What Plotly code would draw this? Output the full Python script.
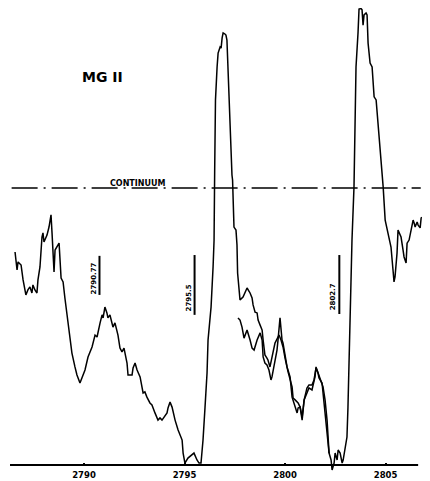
import plotly.graph_objects as go

# Main spectrum tracing (wavelength in Angstrom, intensity relative to continuum)
wave_main = [2786.57, 2786.67, 2786.72, 2786.87, 2786.97, 2787.11, 2787.21, 2787.31, 2787.41, 2787.46,
             2787.56, 2787.66, 2787.71, 2787.81, 2787.91, 2787.96, 2788.01, 2788.16, 2788.26, 2788.36,
             2788.41, 2788.51, 2788.56, 2788.66, 2788.76, 2788.86, 2788.96, 2789.05, 2789.15, 2789.30,
             2789.40, 2789.55, 2789.65, 2789.80, 2789.90, 2790.05, 2790.20, 2790.40, 2790.55, 2790.65,
             2790.80, 2790.90, 2790.95, 2791.04, 2791.14, 2791.19, 2791.29, 2791.39, 2791.44, 2791.54,
             2791.64, 2791.69, 2791.79, 2791.89, 2791.99, 2792.14, 2792.19, 2792.39, 2792.44, 2792.54,
             2792.64, 2792.79, 2792.94, 2793.03, 2793.13, 2793.28, 2793.38, 2793.43, 2793.53, 2793.68,
             2793.78, 2793.88, 2793.98, 2794.13, 2794.18, 2794.28, 2794.38, 2794.43, 2794.53, 2794.68,
             2794.88, 2794.93, 2795.02, 2795.17, 2795.37, 2795.47, 2795.62, 2795.72, 2795.82, 2795.92,
             2796.02, 2796.12, 2796.17, 2796.32, 2796.42, 2796.47, 2796.50, 2796.54, 2796.62, 2796.67,
             2796.77, 2796.82, 2796.87, 2796.92, 2797.01, 2797.06, 2797.11, 2797.16, 2797.21, 2797.31,
             2797.36, 2797.39, 2797.41, 2797.46, 2797.56, 2797.61, 2797.64, 2797.66, 2797.71, 2797.76,
             2797.91, 2798.11, 2798.26, 2798.36, 2798.41, 2798.51, 2798.61, 2798.66, 2798.76, 2798.86,
             2798.91, 2799.00, 2799.10, 2799.15, 2799.25, 2799.40, 2799.50, 2799.65, 2799.70, 2799.80,
             2799.90, 2800.00, 2800.10, 2800.15, 2800.35, 2800.40, 2800.50, 2800.65, 2800.75, 2800.85,
             2800.95, 2801.09, 2801.19, 2801.34, 2801.44, 2801.54, 2801.64, 2801.69, 2801.84, 2801.89,
             2801.99, 2802.09, 2802.14, 2802.19, 2802.29, 2802.34, 2802.44, 2802.49, 2802.59, 2802.64,
             2802.74, 2802.84, 2802.89, 2802.99, 2803.08, 2803.13, 2803.18, 2803.23, 2803.28, 2803.33,
             2803.43, 2803.48, 2803.53, 2803.63, 2803.68, 2803.78, 2803.83, 2803.88, 2803.93, 2804.03,
             2804.08, 2804.13, 2804.23, 2804.33, 2804.43, 2804.53, 2804.63, 2804.73, 2804.83, 2804.88,
             2804.98, 2805.07, 2805.17, 2805.27, 2805.37, 2805.42, 2805.47, 2805.57, 2805.62, 2805.77,
             2805.87, 2805.92, 2806.02, 2806.07, 2806.17, 2806.27, 2806.37, 2806.42, 2806.47, 2806.57,
             2806.62, 2806.72, 2806.77, 2806.87, 2806.92, 2806.97, 2807.06]
flux_main = [0.769, 0.704, 0.733, 0.722, 0.668, 0.614, 0.632, 0.643, 0.621, 0.650,
             0.632, 0.621, 0.668, 0.715, 0.823, 0.838, 0.805, 0.830, 0.859, 0.903,
             0.838, 0.697, 0.776, 0.787, 0.801, 0.675, 0.661, 0.603, 0.549, 0.462,
             0.404, 0.354, 0.325, 0.296, 0.318, 0.343, 0.390, 0.426, 0.469, 0.462,
             0.513, 0.542, 0.531, 0.570, 0.549, 0.531, 0.542, 0.513, 0.498, 0.513,
             0.487, 0.469, 0.422, 0.408, 0.422, 0.368, 0.325, 0.325, 0.350, 0.368,
             0.343, 0.318, 0.260, 0.264, 0.245, 0.224, 0.217, 0.206, 0.188, 0.162,
             0.170, 0.162, 0.173, 0.188, 0.206, 0.227, 0.209, 0.191, 0.162, 0.126,
             0.090, 0.043, 0.007, 0.025, 0.036, 0.043, 0.018, 0.007, 0.007, 0.090,
             0.209, 0.332, 0.451, 0.570, 0.715, 0.812, 1.065, 1.318, 1.437, 1.487,
             1.509, 1.505, 1.542, 1.560, 1.556, 1.552, 1.534, 1.437, 1.282, 1.112,
             1.047, 1.029, 0.957, 0.859, 0.848, 0.794, 0.693, 0.679, 0.632, 0.596,
             0.606, 0.639, 0.621, 0.603, 0.578, 0.552, 0.549, 0.523, 0.505, 0.487,
             0.451, 0.397, 0.386, 0.379, 0.354, 0.404, 0.440, 0.462, 0.469, 0.451,
             0.426, 0.386, 0.350, 0.336, 0.282, 0.242, 0.235, 0.224, 0.209, 0.173,
             0.235, 0.278, 0.289, 0.289, 0.307, 0.350, 0.332, 0.314, 0.296, 0.260,
             0.199, 0.137, 0.090, 0.043, 0.018, -0.018, 0.007, 0.043, 0.018, 0.054,
             0.043, 0.007, 0.018, 0.065, 0.101, 0.209, 0.390, 0.513, 0.632, 0.812,
             1.004, 1.318, 1.437, 1.560, 1.646, 1.648, 1.643, 1.588, 1.625, 1.632,
             1.625, 1.523, 1.451, 1.437, 1.329, 1.318, 1.235, 1.148, 1.054, 1.004,
             0.884, 0.856, 0.823, 0.787, 0.704, 0.661, 0.679, 0.765, 0.848, 0.823,
             0.776, 0.751, 0.729, 0.801, 0.812, 0.848, 0.884, 0.874, 0.859, 0.877,
             0.866, 0.856, 0.892, 0.895, 0.877, 0.892, 0.877]

# Second (overlapping) tracing between the two emission peaks
wave_second = [2797.66, 2797.76, 2797.86, 2797.96, 2798.11, 2798.16, 2798.26, 2798.36, 2798.46, 2798.61,
               2798.66, 2798.76, 2798.86, 2798.91, 2799.00, 2799.10, 2799.20, 2799.30, 2799.35, 2799.45,
               2799.60, 2799.65, 2799.75, 2799.85, 2799.90, 2800.10, 2800.25, 2800.35, 2800.50, 2800.60,
               2800.65, 2800.75, 2800.85, 2800.95, 2801.09, 2801.19, 2801.34, 2801.49, 2801.54, 2801.64,
               2801.79, 2801.89, 2801.99, 2802.09, 2802.19]
flux_second = [0.531, 0.523, 0.498, 0.458, 0.487, 0.477, 0.451, 0.422, 0.415, 0.451,
               0.462, 0.477, 0.451, 0.390, 0.368, 0.361, 0.343, 0.307, 0.318, 0.354,
               0.415, 0.451, 0.531, 0.451, 0.440, 0.354, 0.318, 0.245, 0.209, 0.188,
               0.206, 0.209, 0.162, 0.235, 0.260, 0.278, 0.271, 0.318, 0.354, 0.332,
               0.307, 0.282, 0.235, 0.162, 0.043]

# Continuum level and its drawn extent
continuum_level = 1.0
continuum_wave = [2786.4, 2806.75]

# Line identification marks
line_ids = [2790.77, 2795.5, 2802.7]
line_labels = ["2790.77", "2795.5", "2802.7"]
mark_top = [0.755, 0.758, 0.758]
mark_bottom = [0.614, 0.542, 0.545]

# Axis ticks
tick_vals = [2790, 2795, 2800, 2805]
tick_text = ["2790", "2795", "2800", "2805"]
axis_wave = [2786.32, 2806.62]

title_text = "MG II"
title_pos = (2790.9, 1.40)
continuum_label = "CONTINUUM"
continuum_label_wave = 2792.64

# The page has an 8px body margin, so the figure is 8px smaller than the window
x_range = [2786.22, 2807.21]
y_range = [-0.0578, 1.6498]

fig = go.Figure()
line_style = dict(color="black", width=1.5)

fig.add_trace(go.Scatter(x=wave_main, y=flux_main, mode="lines", line=line_style,
                         hoverinfo="skip", showlegend=False, cliponaxis=False))
fig.add_trace(go.Scatter(x=wave_second, y=flux_second, mode="lines", line=line_style,
                         hoverinfo="skip", showlegend=False, cliponaxis=False))
fig.add_trace(go.Scatter(x=continuum_wave, y=[continuum_level] * 2, mode="lines",
                         line=dict(color="black", width=1.3, dash="26px,6px,2px,6px"),
                         hoverinfo="skip", showlegend=False))
fig.add_trace(go.Scatter(x=axis_wave, y=[0, 0], mode="lines",
                         line=dict(color="black", width=1.8),
                         hoverinfo="skip", showlegend=False))

for w, lab, top, bot in zip(line_ids, line_labels, mark_top, mark_bottom):
    fig.add_trace(go.Scatter(x=[w, w], y=[bot, top], mode="lines",
                             line=dict(color="black", width=2),
                             hoverinfo="skip", showlegend=False))
    fig.add_annotation(x=w, y=bot, text=f"<b>{lab}</b>", textangle=-90, showarrow=False,
                       xanchor="center", yanchor="middle", xshift=-6, yshift=17,
                       font=dict(family="DejaVu Sans", size=7, color="black"))

fig.add_annotation(x=title_pos[0], y=title_pos[1], text=f"<b>{title_text}</b>", showarrow=False,
                   xanchor="center", yanchor="middle",
                   font=dict(family="DejaVu Sans", size=14, color="black"))
fig.add_annotation(x=continuum_label_wave, y=continuum_level, text=f"<b>{continuum_label}</b>",
                   showarrow=False, xanchor="center", yanchor="bottom", yshift=-2,
                   font=dict(family="DejaVu Sans", size=8, color="black"))

fig.update_layout(
    width=422, height=473,
    margin=dict(l=0, r=0, t=0, b=0),
    paper_bgcolor="white", plot_bgcolor="white",
    xaxis=dict(range=x_range, showgrid=False, zeroline=False, showline=False,
               tickvals=tick_vals, ticktext=[f"<b>{t}</b>" for t in tick_text],
               ticks="inside", ticklen=2, tickcolor="black", tickwidth=1.5,
               ticklabelstandoff=3,
               anchor="free", position=16 / 473,
               tickfont=dict(family="DejaVu Sans", size=8.5, color="black")),
    yaxis=dict(range=y_range, visible=False, showgrid=False, zeroline=False),
)

fig.write_html("out.html")
